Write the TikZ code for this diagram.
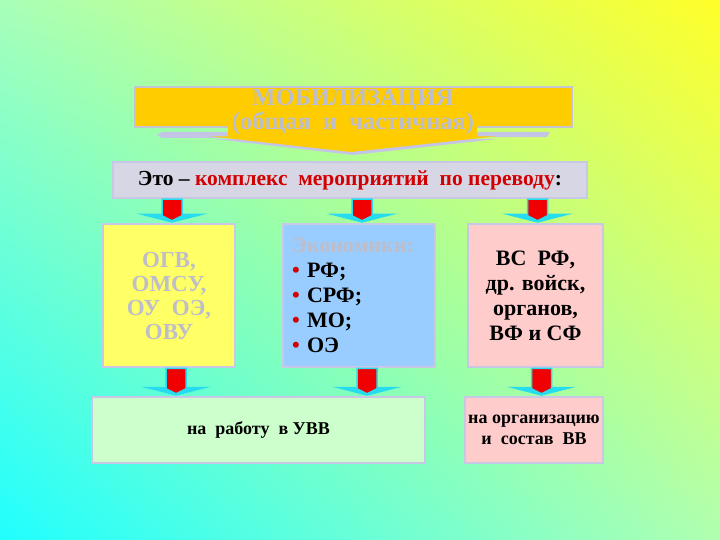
\documentclass[tikz,border=0pt]{standalone}
\usepackage{fontspec}
\setmainfont{Liberation Serif}
\usepackage{xcolor}
\usepackage{tikz}
\usetikzlibrary{calc,shadings}

\definecolor{bgtl}{RGB}{168,255,184}
\definecolor{bgtr}{RGB}{255,255,40}
\definecolor{bgbl}{RGB}{32,255,255}
\definecolor{bgbr}{RGB}{176,255,176}
\definecolor{titleyellow}{RGB}{255,204,0}
\definecolor{titleline}{RGB}{196,196,212}
\definecolor{shadowlav}{RGB}{196,196,230}
\definecolor{introgrey}{RGB}{214,214,228}
\definecolor{boxline}{RGB}{200,200,230}
\definecolor{greytext}{RGB}{190,190,202}
\definecolor{textred}{RGB}{210,0,0}
\definecolor{arrowred}{RGB}{240,0,0}
\definecolor{arrowcyan}{RGB}{40,220,240}
\definecolor{ogvyellow}{RGB}{255,255,102}
\definecolor{econblue}{RGB}{153,204,255}
\definecolor{svpink}{RGB}{255,204,204}
\definecolor{workgreen}{RGB}{204,255,204}

\begin{document}
\begin{tikzpicture}[x=1pt,y=-1pt,
    box/.style={draw=boxline, line width=2.5pt, inner sep=0pt, align=center,
      font=\bfseries\fontsize{22}{25}\selectfont},
    smallbox/.style={box, font=\bfseries\fontsize{18}{21}\selectfont}]

    % background
    \shade[upper left=bgtl, upper right=bgtr, lower left=bgbl, lower right=bgbr]
      (0,0) rectangle (720,540);

    % title callout
    \coordinate (TA) at (135,87);
    \coordinate (TB) at (572,127);
    \fill[shadowlav] (157,135) -- (162,132) -- (550,132) -- (547,137) -- (162,138) -- cycle;
    \fill[shadowlav] (214,139) -- (497,139) -- (353,155) -- cycle;
    \filldraw[fill=titleyellow, draw=titleline, line width=2pt] (TA) rectangle (TB);
    \fill[titleyellow] (228,126) rectangle (477,137);
    \fill[titleyellow] (212,136.5) -- (495,136.5) -- (351,152) -- cycle;
    \node[font=\bfseries\fontsize{24.5}{19}\selectfont, text=greytext, align=center]
      (title) at (353,112) {МОБИЛИЗАЦИЯ\\(общая\ \ и\ \ частичная)};

    % intro line
    \node[box, fill=introgrey, minimum width=474, minimum height=36,
      font=\bfseries\fontsize{21.5}{22}\selectfont]
      (intro) at (350,180)
      {Это -- \textcolor{textred}{комплекс\ \ мероприятий\ \ по переводу}:};

    % middle boxes
    \node[box, fill=ogvyellow, minimum width=132, minimum height=143,
      text=greytext, font=\bfseries\fontsize{23}{24}\selectfont]
      (ogv) at (169,295.5) {ОГВ,\\ОМСУ,\\ОУ\ \ ОЭ,\\ОВУ};
    \node[box, fill=econblue, minimum width=152, minimum height=143,
      text width=134, align=left, inner xsep=9pt]
      (econ) at (359,295.5)
      {\textcolor{greytext}{Экономики:}\\
       \textcolor{textred}{•} РФ;\\
       \textcolor{textred}{•} СРФ;\\
       \textcolor{textred}{•} МО;\\
       \textcolor{textred}{•} ОЭ};
    \node[box, fill=svpink, minimum width=135, minimum height=143]
      (sv) at (535.5,295.5) {ВС\ \ РФ,\\др. войск,\\органов,\\ВФ и СФ};

    % bottom boxes
    \node[smallbox, fill=workgreen, minimum width=333, minimum height=66]
      (work) at (258.5,430) {на\ \ работу\ \ в УВВ};
    \node[smallbox, fill=svpink, minimum width=138, minimum height=66]
      (org) at (534,430) {на организацию\\и\ \ состав\ \ ВВ};

    % block arrows
    \foreach \from/\to/\via/\dx in {intro/ogv/ogv/3, intro/econ/econ/3, intro/sv/sv/2,
        ogv/work/ogv/7, econ/work/econ/8, sv/org/sv/6} {
      \coordinate (s) at ($(\from.south -| \via)+(\dx,0)$);
      \coordinate (e) at ($(\to.north -| \via)+(\dx,0)$);
      \fill[arrowcyan] ($(e)+(-35,-9)$) -- ($(e)+(35,-9)$) -- (e) -- cycle;
      \filldraw[fill=arrowred, draw=arrowcyan, line width=1.5pt]
        ($(s)+(-10,0)$) -- ($(s)+(10,0)$) -- ($(e)+(10,-7)$)
        -- ($(e)+(0,-2)$) -- ($(e)+(-10,-7)$) -- cycle;
    }

\end{tikzpicture}
\end{document}
